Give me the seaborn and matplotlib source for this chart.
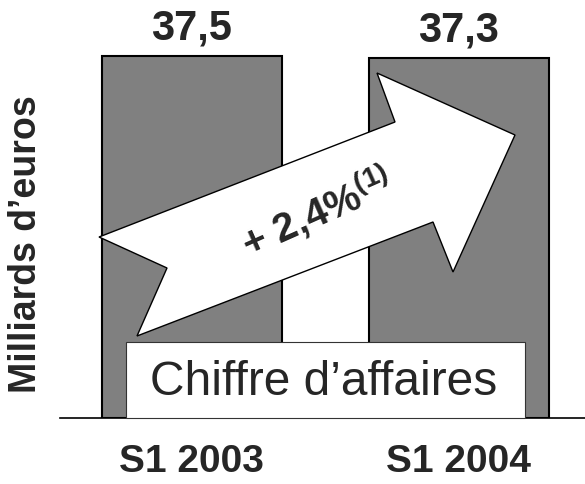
import numpy as np
import pandas as pd
import seaborn as sns
import matplotlib.pyplot as plt
from matplotlib.patches import Polygon, Rectangle

periods = ["S1 2003", "S1 2004"]
revenue = [37.5, 37.3]
value_labels = ["37,5", "37,3"]
growth_label = r"+ 2,4%$^{\mathbf{(1)}}$"
box_label = "Chiffre d\u2019affaires"
y_label = "Milliards d\u2019euros"

W, H = 585, 485


def px(x, y):
    # pixel position (from top-left) -> figure fraction
    return (x / W, 1 - y / H)


sns.set_theme(style="white")
plt.rcParams["font.family"] = ["Liberation Sans", "DejaVu Sans"]
plt.rcParams["mathtext.fontset"] = "custom"
plt.rcParams["mathtext.bf"] = "Liberation Sans:bold"
plt.rcParams["mathtext.rm"] = "Liberation Sans"

fig = plt.figure(figsize=(W / 100, H / 100), dpi=100)
ax = fig.add_axes([60 / W, (H - 419) / H, (W - 60) / W, 419 / H])

df = pd.DataFrame({"period": periods, "revenue": revenue})
sns.barplot(data=df, x="period", y="revenue", color="#808080", saturation=1,
            width=0.674, edgecolor="black", linewidth=1.5, ax=ax)
ax.bar_label(ax.containers[0], labels=value_labels, padding=6,
             fontsize=30, fontweight="bold")

ax.set_xlim(-0.494, 1.472)
ax.set_ylim(0, 37.5 * 419 / 362)
for s in ["left", "right", "top"]:
    ax.spines[s].set_visible(False)
ax.spines["bottom"].set_color("black")
ax.spines["bottom"].set_linewidth(1.2)
ax.set_yticks([])
ax.tick_params(axis="x", length=0, pad=18)
for lab in ax.get_xticklabels():
    lab.set_fontsize(28)
    lab.set_fontweight("bold")
ax.set_xlabel("")
ax.set_ylabel(y_label, fontsize=27, fontweight="bold")
ax.yaxis.set_label_coords(-16 / (W - 60), (419 - 244) / 419)

# growth arrow
arrow_px = [(99, 238), (395, 123), (377, 74), (515, 136), (453, 273),
            (433, 223), (137, 337), (167, 269)]
arrow = Polygon([px(*p) for p in arrow_px], closed=True, facecolor="white",
                edgecolor="black", linewidth=1, transform=fig.transFigure,
                zorder=5)
fig.patches.append(arrow)
fig.text(*px(317, 212), growth_label, rotation=24, ha="center", va="center",
         rotation_mode="anchor", fontsize=29, fontweight="bold", zorder=6)

# label box
x0, y0 = px(126, 419)
x1, y1 = px(525, 343)
box = Rectangle((x0, y0), x1 - x0, y1 - y0, facecolor="white",
                edgecolor="#333333", linewidth=0.8, transform=fig.transFigure,
                zorder=5)
fig.patches.append(box)
fig.text(*px(324, 383), box_label, ha="center", va="center", fontsize=34.5,
         zorder=6)

fig.savefig("out.png", dpi=100)
